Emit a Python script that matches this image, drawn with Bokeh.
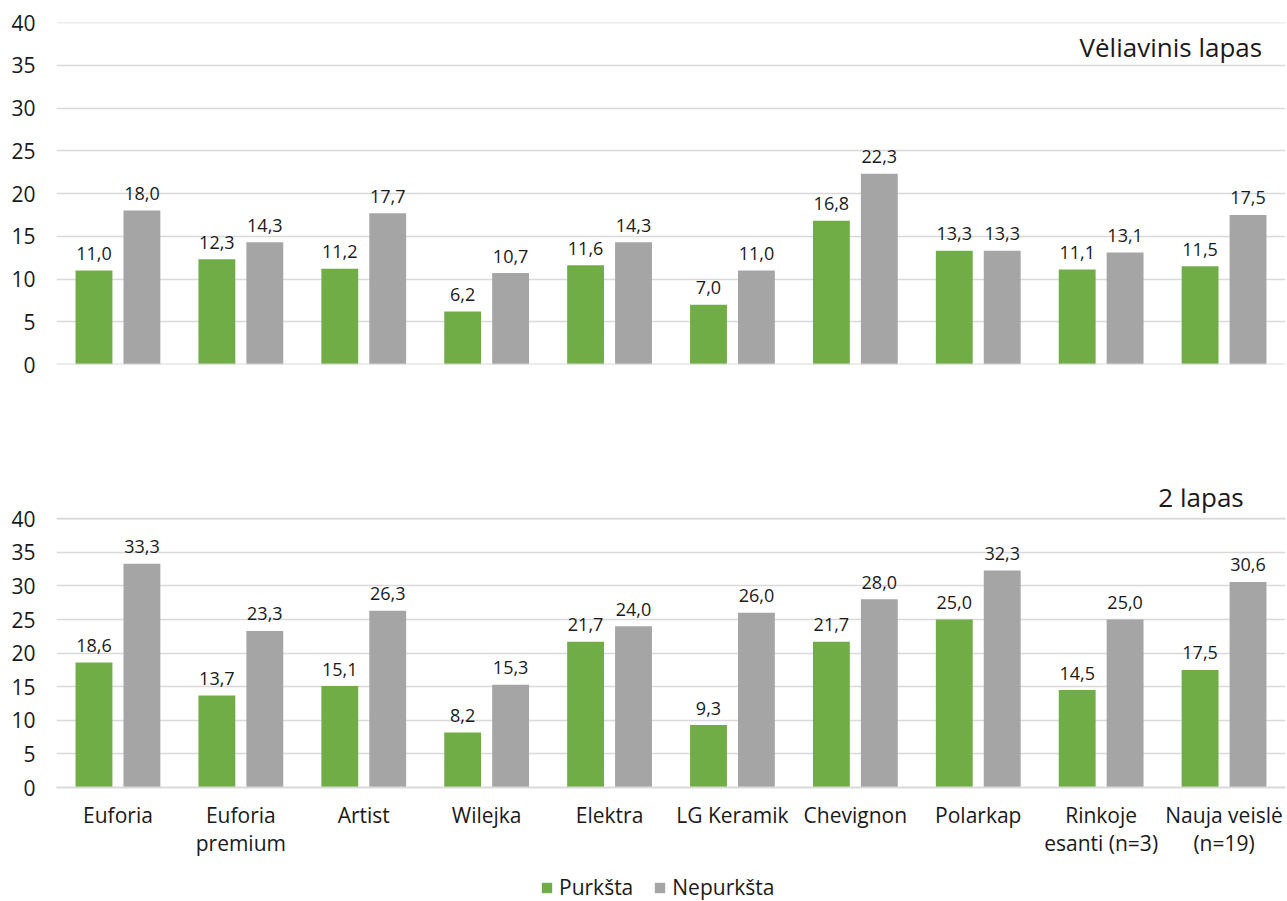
from bokeh.plotting import figure
from bokeh.models import (ColumnDataSource, FactorRange, Range1d, FixedTicker, Label,
                          Legend, LegendItem, Span)
from bokeh.layouts import column
from bokeh.transform import dodge
from bokeh.core.properties import value
from bokeh.embed import file_html
from bokeh.resources import INLINE

categories = ["Euforia", "Euforia\npremium", "Artist", "Wilejka", "Elektra", "LG Keramik",
              "Chevignon", "Polarkap", "Rinkoje\nesanti (n=3)", "Nauja veislė\n(n=19)"]
top_purksta = [11.0, 12.3, 11.2, 6.2, 11.6, 7.0, 16.8, 13.3, 11.1, 11.5]
top_nepurksta = [18.0, 14.3, 17.7, 10.7, 14.3, 11.0, 22.3, 13.3, 13.1, 17.5]
bot_purksta = [18.6, 13.7, 15.1, 8.2, 21.7, 9.3, 21.7, 25.0, 14.5, 17.5]
bot_nepurksta = [33.3, 23.3, 26.3, 15.3, 24.0, 26.0, 28.0, 32.3, 25.0, 30.6]
y_ticks = [0, 5, 10, 15, 20, 25, 30, 35, 40]
series_names = ["Purkšta", "Nepurkšta"]
panel_titles = ["Vėliavinis lapas", "2 lapas"]

GREEN = "#70AD47"
GRAY = "#A5A5A5"
GRID = "#d9d9d9"
FONT = "Open Sans"
TXT = "#1a1a1a"
W = 1287


def fmt(v):
    return f"{v:.1f}".replace(".", ",")


def make_panel(purk, nep, height, left, top, bottom, y_end, show_x):
    src = ColumnDataSource(dict(
        x=categories, purk=purk, nep=nep,
        lp=[fmt(v) for v in purk], ln=[fmt(v) for v in nep]))
    p = figure(width=W, height=height, x_range=FactorRange(*categories, range_padding=0),
               y_range=Range1d(0, y_end), output_backend="svg", toolbar_location=None,
               min_border_left=left, min_border_right=2, min_border_top=top,
               min_border_bottom=bottom)
    p.outline_line_color = None
    p.xgrid.grid_line_color = None
    p.ygrid.grid_line_color = GRID
    p.ygrid.grid_line_width = 1.5
    p.yaxis.ticker = FixedTicker(ticks=y_ticks)
    p.yaxis.axis_line_color = None
    p.yaxis.major_tick_line_color = None
    p.yaxis.minor_tick_line_color = None
    p.yaxis.major_tick_out = 0
    p.yaxis.major_label_standoff = 21
    p.yaxis.major_label_text_font = FONT
    p.yaxis.major_label_text_font_size = "21px"
    p.yaxis.major_label_text_color = TXT
    p.add_layout(Span(location=40, dimension="width", line_color=GRID, line_width=1.5))
    if show_x:
        p.xaxis.axis_line_color = GRID
        p.xaxis.axis_line_width = 2
        p.xaxis.major_tick_line_color = None
        p.xaxis.minor_tick_line_color = None
        p.xaxis.major_tick_out = 0
        p.xaxis.major_label_standoff = 13
        p.xaxis.major_label_text_font = FONT
        p.xaxis.major_label_text_font_size = "21px"
        p.xaxis.major_label_text_color = TXT
        p.xaxis.major_label_text_line_height = 1.0
    else:
        p.xaxis.visible = False
        p.add_layout(Span(location=0, dimension="width", line_color=GRID, line_width=2))
    p.vbar(x=dodge("x", -0.195, range=p.x_range), top="purk", width=0.30, source=src,
           fill_color=GREEN, line_color=None)
    p.vbar(x=dodge("x", 0.195, range=p.x_range), top="nep", width=0.30, source=src,
           fill_color=GRAY, line_color=None)
    for col, ycol, off in (("lp", "purk", -0.195), ("ln", "nep", 0.195)):
        p.text(x=dodge("x", off, range=p.x_range), y=ycol,
               text=col, source=src, text_align="center", text_baseline="alphabetic",
               y_offset=-17, text_font=value(FONT), text_font_size="18px", text_color=TXT)
    return p


top_p = make_panel(top_purksta, top_nepurksta, 430, 56, 22, 66, 40, False)
top_p.add_layout(Label(x=9.81, y=37.1, text=panel_titles[0], text_align="right",
                       text_baseline="middle", text_font=FONT, text_font_size="26px",
                       text_color=TXT))

bot_p = make_panel(bot_purksta, bot_nepurksta, 440, 53, 58, 83, 44.5, True)
bot_p.add_layout(Label(x=9.66, y=43.27, text=panel_titles[1], text_align="right",
                       text_baseline="middle", text_font=FONT, text_font_size="26px",
                       text_color=TXT))

# legend strip: zero-size swatch bars, only the legend is visible
leg_p = figure(width=W, height=31, x_range=Range1d(0, 1), y_range=Range1d(0, 1),
               output_backend="svg", toolbar_location=None,
               min_border_left=0, min_border_right=0, min_border_top=0, min_border_bottom=0)
leg_p.axis.visible = False
leg_p.grid.visible = False
leg_p.outline_line_color = None
swatch = ColumnDataSource(dict(x=[0.5], bottom=[0.5], top=[0.5]))
lr1 = leg_p.vbar(x="x", bottom="bottom", top="top", width=0.0, source=swatch,
                 fill_color=GREEN, line_color=None)
lr2 = leg_p.vbar(x="x", bottom="bottom", top="top", width=0.0, source=swatch,
                 fill_color=GRAY, line_color=None)
legend = Legend(items=[LegendItem(label=series_names[0], renderers=[lr1]),
                       LegendItem(label=series_names[1], renderers=[lr2])],
                orientation="horizontal", location=(484, 0),
                glyph_width=13, glyph_height=13, label_text_font=FONT,
                label_text_font_size="21px", label_text_color=TXT,
                border_line_color=None, background_fill_alpha=0, spacing=20,
                padding=0, margin=0, label_standoff=6, label_height=18)
leg_p.add_layout(legend)

layout = column(top_p, bot_p, leg_p, spacing=0)
open("out.html", "w").write(file_html(layout, INLINE))
